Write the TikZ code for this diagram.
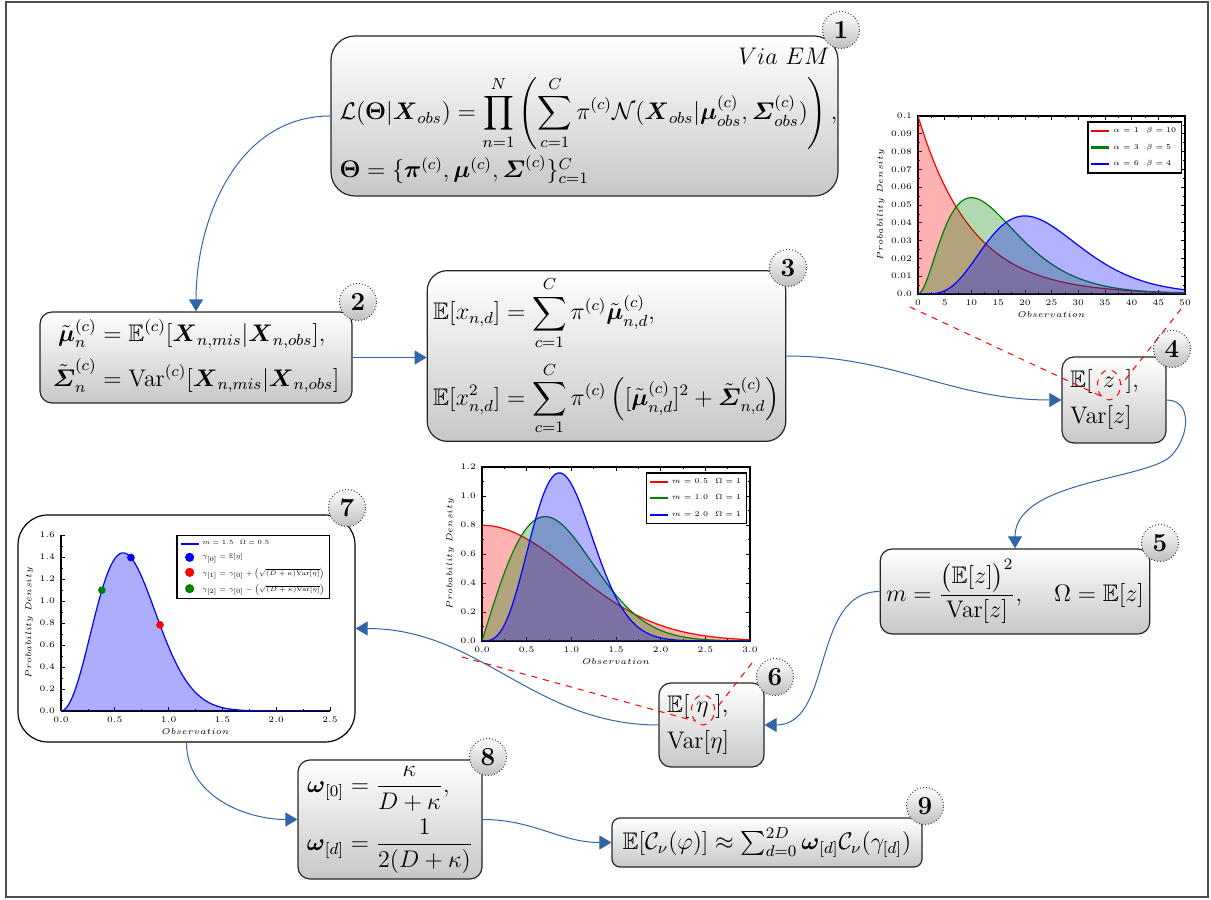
\documentclass[tikz,border=0pt]{standalone}
\usepackage{amsmath,amssymb}
\usepackage{pgfplots}
\pgfplotsset{compat=1.18}
\usetikzlibrary{arrows.meta,shapes.geometric}
\definecolor{conncol}{RGB}{50,100,170}
\definecolor{darkgreen}{RGB}{0,128,0}
\pgfplotsset{
  myaxis/.style={
    scale only axis,
    axis line style={line width=0.6pt},
    tick style={black, line width=0.3pt},
    major tick length=2pt, minor tick length=1pt,
    tick label style={font=\fontsize{5}{5}\selectfont, scale=0.85},
    label style={font=\fontsize{5}{5}\selectfont, scale=0.85},
    xlabel={$Observation$}, ylabel={$Probability\ Density$},
    xlabel style={yshift=3pt}, ylabel style={yshift=-3pt},
    legend style={font=\fontsize{5}{6}\selectfont, draw=black, line width=0.7pt,
      inner sep=1.2pt, row sep=1.6pt, nodes={scale=0.74}},
    legend cell align=left,
    legend image code/.code={\draw[mark repeat=2,mark phase=2,#1,line width=1.1pt] plot coordinates {(0pt,0pt) (4.5pt,0pt) (9pt,0pt)};},
    samples=120, enlargelimits=false, scaled ticks=false,
  },
  onefix/.style={/pgf/number format/.cd, fixed, fixed zerofill, precision=1},
}
\begin{document}
\begin{tikzpicture}[x=0.5pt,y=0.5pt,
  box/.style={draw=black!85, line width=0.6pt, top color=white, bottom color=black!22,
    inner sep=3pt, font=\fontsize{12}{15}\selectfont},
  whitebox/.style={draw=black, line width=0.6pt, fill=white},
  num/.style={circle, draw=black!75, densely dotted, line width=0.5pt, top color=white,
    bottom color=black!25, minimum size=18.5pt, inner sep=0pt, font=\fontsize{13}{13}\selectfont\bfseries},
  conn/.style={draw=conncol, line width=0.5pt, -{Triangle[length=6pt,width=7pt]}},
  zoomline/.style={red, dashed, line width=0.5pt},
  zoomring/.style={ellipse, draw=red, dashed, line width=0.5pt, minimum width=11.5pt,
    minimum height=15pt, inner sep=0pt}
]
\useasboundingbox (0,0) rectangle (1211,900);
\draw[line width=0.8pt, black!70] (6,3) rectangle (1208,898);

% boxes
\node[box, rounded corners=12pt, minimum width=253.5pt, minimum height=80pt] (b1) at (584.5,784) {%
\begin{minipage}{245pt}\noindent
{\raggedleft $Via\ EM$\par}\vspace{5pt}\noindent
$\displaystyle \mathcal{L}(\boldsymbol\Theta|\boldsymbol X_{obs}) = \prod_{n=1}^{N}\left(\sum_{c=1}^{C}\pi^{(c)}\mathcal{N}(\boldsymbol X_{obs}|\boldsymbol\mu^{(c)}_{obs},\boldsymbol\varSigma^{(c)}_{obs})\right),$\par\vspace{2pt}\noindent
$\boldsymbol\Theta = \{\boldsymbol\pi^{(c)},\boldsymbol\mu^{(c)},\boldsymbol\varSigma^{(c)}\}_{c=1}^{C}$
\end{minipage}};

\node[box, rounded corners=6pt, minimum width=156pt, minimum height=45.5pt] (b2) at (196,542.5) {%
$\begin{aligned}\tilde{\boldsymbol\mu}^{(c)}_n &= \mathbb{E}^{(c)}[\boldsymbol X_{n,mis}|\boldsymbol X_{n,obs}],\\
\tilde{\boldsymbol\varSigma}^{(c)}_n &= \mathrm{Var}^{(c)}[\boldsymbol X_{n,mis}|\boldsymbol X_{n,obs}]\end{aligned}$};

\node[box, rounded corners=10pt, minimum width=178.5pt, minimum height=84pt] (b3) at (606.5,544) {%
$\begin{aligned}\mathbb{E}[x_{n,d}] &= \sum_{c=1}^{C}\pi^{(c)}\tilde{\boldsymbol\mu}^{(c)}_{n,d},\\[2pt]
\mathbb{E}[x^2_{n,d}] &= \sum_{c=1}^{C}\pi^{(c)}\left([\tilde{\boldsymbol\mu}^{(c)}_{n,d}]^2+\tilde{\boldsymbol\varSigma}^{(c)}_{n,d}\right)\end{aligned}$};

\node[box, rounded corners=6pt, minimum width=52pt, minimum height=43pt, inner sep=4pt,
  text width=44pt, align=left] (b4) at (1114,500) {%
$\mathbb{E}[\;\,z\;\,]$,\\[3pt] $\mathrm{Var}[z]$};

\node[box, rounded corners=6pt, minimum width=133pt, minimum height=42.5pt] (b5) at (1015,308.5) {%
$m = \dfrac{\big(\mathbb{E}[z]\big)^2}{\mathrm{Var}[z]},\hspace{14pt} \Omega = \mathbb{E}[z]$};

\node[box, rounded corners=6pt, minimum width=52.5pt, minimum height=42pt, inner sep=4pt,
  text width=44.5pt, align=left] (b6) at (711.5,175) {%
$\mathbb{E}[\;\eta\;]$,\\[3pt] $\mathrm{Var}[\eta]$};

\node[whitebox, rounded corners=15pt, minimum width=168.5pt, minimum height=113.5pt] (b7) at (186.5,271.5) {};

\node[box, rounded corners=6pt, minimum width=92pt, minimum height=57.5pt] (b8) at (390,80.5) {%
$\begin{aligned}\boldsymbol\omega_{[0]} &= \frac{\kappa}{D+\kappa},\\ \boldsymbol\omega_{[d]} &= \frac{1}{2(D+\kappa)}\end{aligned}$};

\node[box, rounded corners=4pt, minimum width=155pt, minimum height=24.5pt] (b9) at (767,57.5) {%
$\mathbb{E}[\mathcal{C}_\nu(\varphi)] \approx \textstyle\sum_{d=0}^{2D}\boldsymbol\omega_{[d]}\mathcal{C}_\nu(\gamma_{[d]})$};

% number badges
\node[num] (n1) at (841,870) {1};
\node[num] (n2) at (358,598) {2};
\node[num] (n3) at (788,632) {3};
\node[num] (n4) at (1172,551) {4};
\node[num] (n5) at (1160,357) {5};
\node[num] (n6) at (775,223) {6};
\node[num] (n7) at (347,392) {7};
\node[num] (n8) at (488,143) {8};
\node[num] (n9) at (925,94) {9};

% plot A: Gamma
\begin{axis}[myaxis, at={(459pt,303pt)}, anchor=south west, width=133.5pt, height=89pt,
  xmin=0, xmax=50, ymin=0, ymax=0.1, domain=0:50,
  xtick={0,5,10,15,20,25,30,35,40,45,50},
  ytick={0,0.01,0.02,0.03,0.04,0.05,0.06,0.07,0.08,0.09,0.1},
  yticklabels={0.0,0.01,0.02,0.03,0.04,0.05,0.06,0.07,0.08,0.09,0.1},
  minor x tick num=1, minor y tick num=1,
  legend style={at={(0.99,0.97)}, anchor=north east}]
\addplot[draw=none, fill=red, fill opacity=0.3, forget plot] {0.1*exp(-x/10)} \closedcycle;
\addplot[red, line width=0.6pt] {0.1*exp(-x/10)};
\addlegendentry{$\alpha=1\quad\beta=10$}
\addplot[draw=none, fill=darkgreen, fill opacity=0.3, forget plot] {x^2*exp(-x/5)/250} \closedcycle;
\addplot[darkgreen, line width=0.6pt] {x^2*exp(-x/5)/250};
\addlegendentry{$\alpha=3\quad\beta=5$}
\addplot[draw=none, fill=blue, fill opacity=0.3, forget plot] {(x/4)^5*exp(-x/4)/480} \closedcycle;
\addplot[blue, line width=0.6pt] {(x/4)^5*exp(-x/4)/480};
\addlegendentry{$\alpha=6\quad\beta=4$}
\end{axis}

% plot B: Nakagami
\begin{axis}[myaxis, at={(241pt,129.5pt)}, anchor=south west, width=134pt, height=87pt,
  xmin=0, xmax=3, ymin=0, ymax=1.2, domain=0:3,
  xtick={0,0.5,1,1.5,2,2.5,3}, ytick={0,0.2,0.4,0.6,0.8,1,1.2},
  xticklabel style={onefix}, yticklabel style={onefix},
  minor x tick num=1, minor y tick num=1,
  legend style={at={(0.99,0.97)}, anchor=north east}]
\addplot[draw=none, fill=red, fill opacity=0.3, forget plot] {0.7979*exp(-0.5*x^2)} \closedcycle;
\addplot[red, line width=0.6pt] {0.7979*exp(-0.5*x^2)};
\addlegendentry{$m=0.5\quad\Omega=1$}
\addplot[draw=none, fill=darkgreen, fill opacity=0.3, forget plot] {2*x*exp(-x^2)} \closedcycle;
\addplot[darkgreen, line width=0.6pt] {2*x*exp(-x^2)};
\addlegendentry{$m=1.0\quad\Omega=1$}
\addplot[draw=none, fill=blue, fill opacity=0.3, forget plot] {8*x^3*exp(-2*x^2)} \closedcycle;
\addplot[blue, line width=0.6pt] {8*x^3*exp(-2*x^2)};
\addlegendentry{$m=2.0\quad\Omega=1$}
\end{axis}

% plot C: sigma points
\begin{axis}[myaxis, at={(30.5pt,94.5pt)}, anchor=south west, width=134.5pt, height=88pt,
  axis lines*=left,
  xmin=0, xmax=2.5, ymin=0, ymax=1.6, domain=0:2.5,
  xtick={0,0.5,1,1.5,2,2.5}, ytick={0,0.2,0.4,0.6,0.8,1,1.2,1.4,1.6},
  xticklabel style={onefix}, yticklabel style={onefix},
  minor x tick num=1, minor y tick num=1,
  legend style={at={(1,1)}, anchor=north east, row sep=1pt, nodes={scale=0.86}}]
\addplot[draw=none, fill=blue, fill opacity=0.32, forget plot] {11.727*x^2*exp(-3*x^2)} \closedcycle;
\addplot[blue, line width=0.6pt] {11.727*x^2*exp(-3*x^2)};
\addlegendentry{$m=1.5\quad\Omega=0.5$}
\addplot[only marks, mark=*, mark size=1.7pt, blue] coordinates {(0.65,1.395)};
\addlegendentry{$\gamma_{[0]}=\mathbb{E}[\eta]$}
\addplot[only marks, mark=*, mark size=1.7pt, red] coordinates {(0.92,0.783)};
\addlegendentry{$\gamma_{[1]}=\gamma_{[0]}+\left(\sqrt{(D+\kappa)\mathrm{Var}[\eta]}\right)$}
\addplot[only marks, mark=*, mark size=1.7pt, darkgreen] coordinates {(0.38,1.098)};
\addlegendentry{$\gamma_{[2]}=\gamma_{[0]}-\left(\sqrt{(D+\kappa)\mathrm{Var}[\eta]}\right)$}
\end{axis}

% zoom rings and lines
\node[zoomring] (zr) at (1109,515) {};
\node[zoomring] (er) at (703,190) {};
\coordinate (zA1) at (910,593);
\coordinate (zA2) at (1181,591);
\coordinate (zB1) at (462,243);
\coordinate (zB2) at (752,237);
\draw[zoomline] (zA1) -- (zr.south west);
\draw[zoomline] (zA2) -- (zr.east);
\draw[zoomline] (zB1) -- (er.south west);
\draw[zoomline] (zB2) -- (er.east);

% connectors
\draw[conn] (b1.west) to[out=180,in=90] (b2.north);
\draw[conn] (b2.east) -- (b3.west |- b2.east);
\draw[conn] (b3.east) to[out=0,in=180] (b4.west);
\draw[conn] (b4.east) .. controls (1192,500) and (1190,465) .. (1172,445)
   .. controls (1150,420) and (1015,420) .. (b5.north);
\draw[conn] (b5.west) to[out=180,in=0] (b6.east);
\draw[conn] (b6.west) to[out=180,in=0] (b7.east);
\draw[conn] (b7.south) to[out=-90,in=180] (b8.west);
\draw[conn] (b8.east) to[out=0,in=180] (b9.west);
\end{tikzpicture}
\end{document}
